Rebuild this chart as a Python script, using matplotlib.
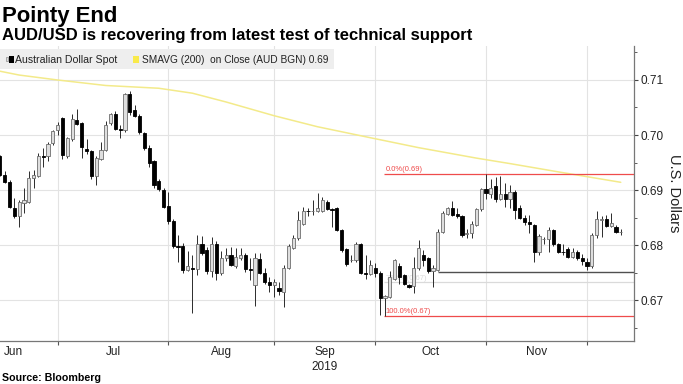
import numpy as np
import pandas as pd
import matplotlib
matplotlib.use('Agg')
import matplotlib.pyplot as plt
from matplotlib.patches import Rectangle

# AUD/USD daily candles
dates = pd.bdate_range('2019-06-12', '2019-12-10')

opens = [
    0.6961, 0.6928, 0.6915, 0.6868, 0.6852, 0.6876, 0.6879, 0.6921, 0.6926, 0.6962,
    0.6961, 0.6985, 0.7009, 0.7030, 0.6962, 0.6993, 0.7028, 0.7021, 0.6974, 0.6971,
    0.6926, 0.6957, 0.6973, 0.7021, 0.7039, 0.7011, 0.7009, 0.7075, 0.7045, 0.7035,
    0.7004, 0.6977, 0.6952, 0.6917, 0.6900, 0.6871, 0.6844, 0.6799, 0.6798, 0.6755,
    0.6759, 0.6756, 0.6802, 0.6791, 0.6752, 0.6801, 0.6749, 0.6777, 0.6782, 0.6762,
    0.6776, 0.6781, 0.6757, 0.6728, 0.6775, 0.6750, 0.6733, 0.6727, 0.6721, 0.6715,
    0.6759, 0.6795, 0.6812, 0.6838, 0.6862, 0.6862, 0.6862, 0.6862, 0.6879, 0.6865,
    0.6867, 0.6827, 0.6792, 0.6772, 0.6773, 0.6802, 0.6749, 0.6748, 0.6759, 0.6750,
    0.6703, 0.6706, 0.6739, 0.6762, 0.6745, 0.6727, 0.6725, 0.6758, 0.6782, 0.6776,
    0.6752, 0.6755, 0.6824, 0.6857, 0.6867, 0.6856, 0.6852, 0.6820, 0.6821, 0.6836,
    0.6865, 0.6902, 0.6892, 0.6908, 0.6884, 0.6892, 0.6884, 0.6897, 0.6867, 0.6850,
    0.6841, 0.6836, 0.6787, 0.6811, 0.6811, 0.6827, 0.6801, 0.6788, 0.6793, 0.6779,
    0.6788, 0.6777, 0.6770, 0.6761, 0.6818, 0.6845, 0.6848, 0.6834, 0.6833, 0.6824,
]
closes = [
    0.6928, 0.6915, 0.6870, 0.6852, 0.6879, 0.6882, 0.6922, 0.6927, 0.6962, 0.6960,
    0.6983, 0.7007, 0.7019, 0.6964, 0.6994, 0.7029, 0.7020, 0.6979, 0.6971, 0.6926,
    0.6958, 0.6973, 0.7019, 0.7039, 0.7011, 0.7009, 0.7074, 0.7041, 0.7035, 0.7005,
    0.6976, 0.6950, 0.6909, 0.6901, 0.6870, 0.6844, 0.6799, 0.6797, 0.6755, 0.6761,
    0.6756, 0.6802, 0.6785, 0.6752, 0.6802, 0.6749, 0.6777, 0.6781, 0.6764, 0.6779,
    0.6782, 0.6756, 0.6755, 0.6776, 0.6750, 0.6733, 0.6727, 0.6732, 0.6716, 0.6759,
    0.6799, 0.6813, 0.6845, 0.6862, 0.6861, 0.6862, 0.6867, 0.6881, 0.6865, 0.6863,
    0.6827, 0.6791, 0.6765, 0.6773, 0.6802, 0.6750, 0.6748, 0.6764, 0.6750, 0.6703,
    0.6707, 0.6741, 0.6773, 0.6742, 0.6730, 0.6724, 0.6759, 0.6794, 0.6773, 0.6752,
    0.6759, 0.6824, 0.6858, 0.6867, 0.6855, 0.6852, 0.6819, 0.6821, 0.6838, 0.6865,
    0.6902, 0.6894, 0.6903, 0.6884, 0.6892, 0.6884, 0.6896, 0.6864, 0.6850, 0.6841,
    0.6839, 0.6787, 0.6817, 0.6811, 0.6827, 0.6801, 0.6788, 0.6787, 0.6779, 0.6788,
    0.6776, 0.6771, 0.6762, 0.6819, 0.6847, 0.6848, 0.6835, 0.6840, 0.6823, 0.6824,
]
highs = [
    0.6964, 0.6934, 0.6918, 0.6885, 0.6882, 0.6903, 0.6935, 0.6936, 0.6967, 0.6977,
    0.6988, 0.7009, 0.7023, 0.7033, 0.6997, 0.7038, 0.7047, 0.7024, 0.6993, 0.6972,
    0.6961, 0.6987, 0.7025, 0.7040, 0.7043, 0.7019, 0.7076, 0.7080, 0.7055, 0.7038,
    0.7006, 0.6982, 0.6955, 0.6920, 0.6903, 0.6897, 0.6847, 0.6819, 0.6803, 0.6790,
    0.6782, 0.6818, 0.6816, 0.6797, 0.6815, 0.6808, 0.6790, 0.6794, 0.6797, 0.6794,
    0.6795, 0.6785, 0.6776, 0.6785, 0.6785, 0.6759, 0.6742, 0.6739, 0.6733, 0.6764,
    0.6801, 0.6818, 0.6861, 0.6870, 0.6868, 0.6882, 0.6894, 0.6888, 0.6882, 0.6867,
    0.6869, 0.6829, 0.6794, 0.6782, 0.6805, 0.6803, 0.6782, 0.6773, 0.6767, 0.6752,
    0.6709, 0.6752, 0.6775, 0.6767, 0.6748, 0.6730, 0.6779, 0.6809, 0.6791, 0.6779,
    0.6764, 0.6830, 0.6861, 0.6870, 0.6880, 0.6867, 0.6855, 0.6830, 0.6843, 0.6868,
    0.6904, 0.6929, 0.6920, 0.6924, 0.6926, 0.6912, 0.6910, 0.6900, 0.6872, 0.6855,
    0.6855, 0.6838, 0.6820, 0.6815, 0.6833, 0.6830, 0.6803, 0.6802, 0.6797, 0.6794,
    0.6791, 0.6783, 0.6776, 0.6821, 0.6862, 0.6853, 0.6855, 0.6858, 0.6837, 0.6829,
]
lows = [
    0.6925, 0.6912, 0.6867, 0.6849, 0.6833, 0.6858, 0.6876, 0.6903, 0.6924, 0.6942,
    0.6953, 0.6982, 0.7000, 0.6957, 0.6958, 0.6990, 0.7018, 0.6958, 0.6966, 0.6920,
    0.6910, 0.6954, 0.6971, 0.7018, 0.7009, 0.6995, 0.7006, 0.7037, 0.7032, 0.7001,
    0.6973, 0.6942, 0.6903, 0.6898, 0.6867, 0.6839, 0.6795, 0.6770, 0.6749, 0.6752,
    0.6677, 0.6745, 0.6782, 0.6748, 0.6742, 0.6736, 0.6746, 0.6771, 0.6761, 0.6758,
    0.6773, 0.6751, 0.6736, 0.6690, 0.6748, 0.6730, 0.6715, 0.6706, 0.6710, 0.6688,
    0.6756, 0.6793, 0.6809, 0.6836, 0.6852, 0.6855, 0.6860, 0.6860, 0.6863, 0.6833,
    0.6826, 0.6788, 0.6761, 0.6770, 0.6770, 0.6747, 0.6739, 0.6745, 0.6742, 0.6673,
    0.6671, 0.6703, 0.6736, 0.6730, 0.6727, 0.6721, 0.6712, 0.6755, 0.6761, 0.6749,
    0.6724, 0.6752, 0.6822, 0.6855, 0.6852, 0.6849, 0.6815, 0.6812, 0.6812, 0.6834,
    0.6861, 0.6884, 0.6885, 0.6878, 0.6882, 0.6870, 0.6868, 0.6848, 0.6848, 0.6837,
    0.6821, 0.6770, 0.6782, 0.6802, 0.6788, 0.6799, 0.6785, 0.6781, 0.6776, 0.6776,
    0.6773, 0.6764, 0.6755, 0.6758, 0.6813, 0.6815, 0.6832, 0.6832, 0.6821, 0.6819,
]

# 200-day moving average, read at a few dates
sma_dates = ['2019-06-12', '2019-06-18', '2019-06-28', '2019-07-12', '2019-07-29',
             '2019-08-07', '2019-08-16', '2019-08-30', '2019-09-12', '2019-09-27',
             '2019-10-11', '2019-10-29', '2019-11-07', '2019-11-21', '2019-12-10']
sma_vals = [0.7116, 0.7109, 0.7100, 0.7090, 0.7085,
            0.7076, 0.7060, 0.7035, 0.7015, 0.6995,
            0.6977, 0.6958, 0.6948, 0.6933, 0.6914]

# fibonacci / support levels
fib_start = '2019-10-02'
fib_levels = [0.6929, 0.6732, 0.6671]
fib_labels = ['0.0%(0.69)', '76.4%(0.67)', '100.0%(0.67)']
fib_colors = ['#ef4b4b', '#dadada', '#ef4b4b']
support_start = '2019-10-17'
support_level = 0.6751

yticks = [0.67, 0.68, 0.69, 0.70, 0.71]
month_names = ['Jun', 'Jul', 'Aug', 'Sep', 'Oct', 'Nov']

plt.rcParams['font.family'] = ['Liberation Sans', 'DejaVu Sans']

W, H = 683, 384
fig = plt.figure(figsize=(W / 100, H / 100), dpi=100)
ax_l, ax_r, ax_t, ax_b = 0, 634, 46, 341
aw, ah = ax_r - ax_l, ax_b - ax_t
ax = fig.add_axes([ax_l / W, 1 - ax_b / H, aw / W, ah / H])

o = np.array(opens); c = np.array(closes); hi = np.array(highs); lo = np.array(lows)
x = np.arange(len(dates))
up = c >= o

# wicks
ax.vlines(x, lo, hi, color='#2b2b2b', lw=0.7, zorder=3)
# bodies
bottom = np.minimum(o, c)
height = np.maximum(np.abs(c - o), 0.00004)
ax.bar(x[up], height[up], bottom=bottom[up], width=0.66, color='#dedede',
       edgecolor='#6e6e6e', linewidth=0.6, zorder=4)
ax.bar(x[~up], height[~up], bottom=bottom[~up], width=0.66, color='#000000',
       edgecolor='#000000', linewidth=0.6, zorder=4)

# moving average
sx = dates.get_indexer(pd.to_datetime(sma_dates))
ax.plot(sx, sma_vals, color='#f3ea8a', lw=1.1, zorder=2, solid_capstyle='round')

xr = 131.75
fi = dates.get_loc(pd.Timestamp(fib_start))
for lvl, lab, col in zip(fib_levels, fib_labels, fib_colors):
    ax.hlines(lvl, fi - 0.2, xr, color=col, lw=0.9, zorder=2)
    ax.text(fi + 0.1, lvl + 0.00012, lab, color=col, fontsize=5.5, va='bottom',
            ha='left', zorder=2)
si = dates.get_loc(pd.Timestamp(support_start))
ax.hlines(support_level, si, xr, color='#505050', lw=1.0, zorder=2)

ax.set_xlim(0.02, xr)
ax.set_ylim(0.66255, 0.71618)

# month gridlines: one bar before the first trading day of each month
firsts = [i for i in range(1, len(dates)) if dates[i].month != dates[i - 1].month]
grid_x = [f - 1 for f in firsts]
for g in grid_x:
    ax.axvline(g, color='#e3e3e3', lw=0.8, zorder=0)
for t in yticks:
    ax.axhline(t, color='#e3e3e3', lw=0.8, zorder=0)

ax.set_xticks(grid_x)
ax.set_xticklabels([])
ax.tick_params(axis='x', length=3, color='#555555', direction='out')

# month labels centred between boundaries
xt = ax.get_xaxis_transform()
lab_y = (ax_b - 355) / ah
for k, name in enumerate(month_names):
    if k == 0:
        ax.text(0.9, lab_y, name, transform=xt, ha='left', va='baseline',
                fontsize=8.5, color='#222222')
    else:
        mid = (grid_x[k - 1] + grid_x[k]) / 2
        ax.text(mid, lab_y, name, transform=xt, ha='center', va='baseline',
                fontsize=8.5, color='#222222')
sep_mid = (grid_x[2] + grid_x[3]) / 2
ax.text(sep_mid, (ax_b - 370) / ah, '2019', transform=xt, ha='center', va='baseline',
        fontsize=8.5, color='#222222')

ax.yaxis.tick_right()
ax.set_yticks(yticks)
ax.set_yticklabels(['%.2f' % t for t in yticks])
ax.set_yticks(np.arange(0.665, 0.716, 0.01), minor=True)
ax.tick_params(axis='y', which='major', length=3, color='#444444', labelsize=8.5,
               labelcolor='#222222', pad=2)
ax.tick_params(axis='y', which='minor', length=2, color='#444444')
ax.yaxis.set_label_position('right')
ax.set_ylabel('U.S. Dollars', rotation=270, fontsize=10.5, color='#222222', labelpad=12)

for s in ['top', 'left']:
    ax.spines[s].set_visible(False)
for s in ['right', 'bottom']:
    ax.spines[s].set_color('#777777')
    ax.spines[s].set_linewidth(0.9)

# legend box
ax.add_patch(Rectangle((0, (ax_b - 69) / ah), 334 / aw, 20 / ah, transform=ax.transAxes,
                       facecolor='#eeeeee', edgecolor='none', zorder=5))
ly = (ax_b - 63) / ah
lc = (ax_b - 59) / ah
ax.add_patch(Rectangle((5.5 / aw, lc - 2 / ah), 2 / aw, 4 / ah, transform=ax.transAxes,
                       facecolor='#dddddd', edgecolor='#777777', lw=0.4, zorder=6))
ax.add_patch(Rectangle((8.5 / aw, lc - 3.5 / ah), 5 / aw, 7 / ah, transform=ax.transAxes,
                       facecolor='#000000', edgecolor='none', zorder=6))
ax.text(15 / aw, ly, 'Australian Dollar Spot', transform=ax.transAxes, fontsize=7.6,
        va='baseline', ha='left', color='#222222', zorder=6)
ax.add_patch(Rectangle((133 / aw, lc - 3.5 / ah), 6 / aw, 7 / ah, transform=ax.transAxes,
                       facecolor='#f9ea4a', edgecolor='none', zorder=6))
ax.text(142 / aw, ly, 'SMAVG (200)  on Close (AUD BGN) 0.69', transform=ax.transAxes,
        fontsize=7.3, va='baseline', ha='left', color='#222222', zorder=6)

# titles
fig.text(2 / W, 1 - 22 / H, 'Pointy End', fontsize=15.9, fontweight='bold',
         va='baseline', ha='left', color='#000000')
fig.text(2 / W, 1 - 40 / H, 'AUD/USD is recovering from latest test of technical support',
         fontsize=12, fontweight='bold', va='baseline', ha='left', color='#000000')
fig.text(2 / W, 1 - 381 / H, 'Source: Bloomberg', fontsize=7.7, fontweight='bold',
         va='baseline', ha='left', color='#000000')

fig.savefig('out.png', dpi=100)
